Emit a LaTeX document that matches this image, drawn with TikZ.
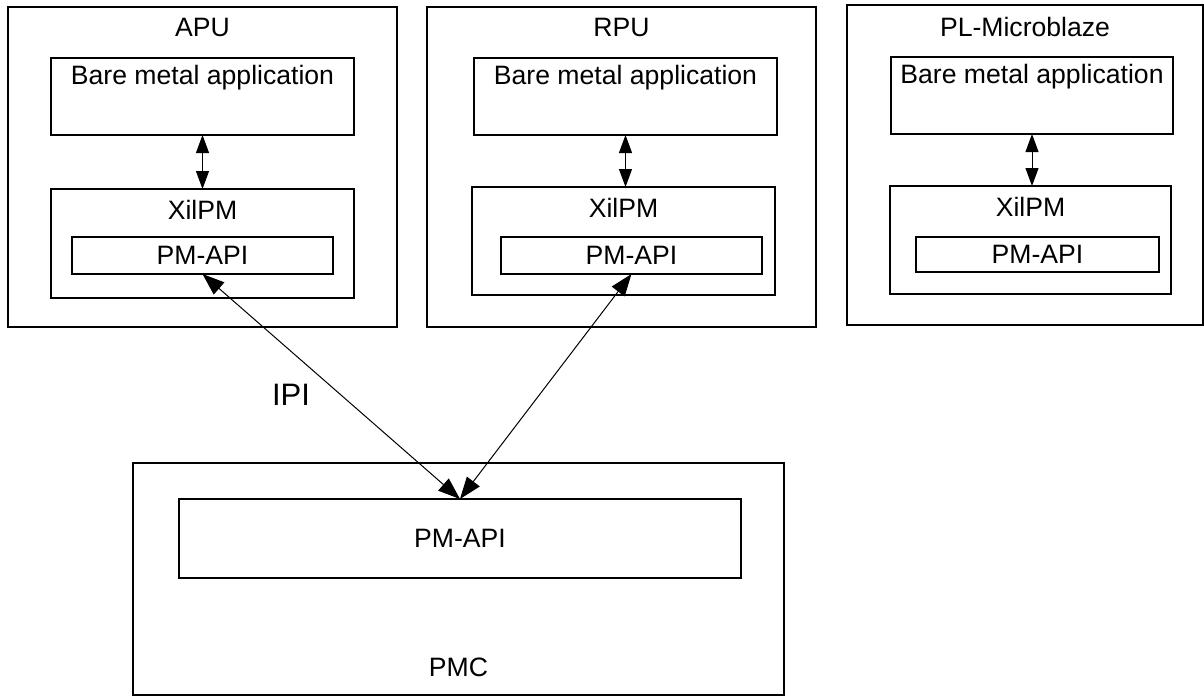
\documentclass[tikz,border=0pt]{standalone}
\usepackage{fontspec}
\setmainfont{Liberation Sans}
\usepackage{tikz}
\usetikzlibrary{arrows.meta}

\begin{document}
\begin{tikzpicture}[x=0.5pt,y=-0.5pt,
                    every node/.style={font=\fontsize{13.3}{16}\selectfont},
                    box/.style={draw,line width=1pt,inner sep=0pt,outer sep=0pt},
                    head/.style={anchor=center,inner sep=0pt},
                    local/.style={{Triangle[length=9pt,width=6.5pt]}-{Triangle[length=9pt,width=6.5pt]},line width=0.5pt},
                    ipiarrow/.style={{Triangle[length=11pt,width=8pt]}-{Triangle[length=11pt,width=8pt]},line width=0.5pt}]
  \useasboundingbox (0,0) rectangle (1204,696);
  % APU
  \node[box,minimum width=194.5pt,minimum height=160pt,
        label={[head,yshift=-10pt]north:APU}] (apu) at (202.5,167) {};
  \node[box,minimum width=151.5pt,minimum height=38.5pt,
        label={[head,yshift=-10pt]north:Bare metal application}] (apuApp) at (202.5,96.5) {};
  \node[box,minimum width=151.5pt,minimum height=54.5pt,
        label={[head,yshift=-10.5pt]north:XilPM}] (apuXil) at (202.5,243.5) {};
  \node[box,minimum width=130.5pt,minimum height=18.5pt] (apuApi) at (202.5,255.5) {PM-API};
  % RPU
  \node[box,minimum width=194.5pt,minimum height=160pt,
        label={[head,yshift=-10pt]north:RPU}] (rpu) at (621.5,167) {};
  \node[box,minimum width=151.5pt,minimum height=38.5pt,
        label={[head,yshift=-10pt]north:Bare metal application}] (rpuApp) at (625.5,96.5) {};
  \node[box,minimum width=151.5pt,minimum height=54pt,
        label={[head,yshift=-10.5pt]north:XilPM}] (rpuXil) at (623.5,241) {};
  \node[box,minimum width=130.5pt,minimum height=18.5pt] (rpuApi) at (631.5,255.5) {PM-API};
  % PL-Microblaze
  \node[box,minimum width=178pt,minimum height=160pt,
        label={[head,yshift=-11pt]north:PL-Microblaze}] (pl) at (1025,165) {};
  \node[box,minimum width=141pt,minimum height=38.5pt,
        label={[head,yshift=-10pt]north:Bare metal application}] (plApp) at (1032,95.5) {};
  \node[box,minimum width=140.5pt,minimum height=54pt,
        label={[head,yshift=-10.5pt]north:XilPM}] (plXil) at (1030.5,240) {};
  \node[box,minimum width=121.5pt,minimum height=17.5pt] (plApi) at (1037.5,254.5) {PM-API};
  % PMC
  \node[box,minimum width=325.5pt,minimum height=116pt,
        label={[head,yshift=14pt]south:PMC}] (pmc) at (458.5,579) {};
  \node[box,minimum width=281pt,minimum height=39.5pt] (pmcApi) at (460,538.5) {PM-API};
  \node[font=\fontsize{15.5}{18}\selectfont] (ipi) at (291,395) {IPI};
  % calls inside each processor
  \draw[local] (apuApp.south) -- (apuXil.north);
  \draw[local] (rpuApp.south) -- (rpuApp.south |- rpuXil.north);
  \draw[local] (plApp.south) -- (plApp.south |- plXil.north);
  % IPI to the PMC
  \draw[ipiarrow] (apuApi.south) -- (pmcApi.north);
  \draw[ipiarrow] (rpuApi.south) -- (pmcApi.north);
\end{tikzpicture}
\end{document}
